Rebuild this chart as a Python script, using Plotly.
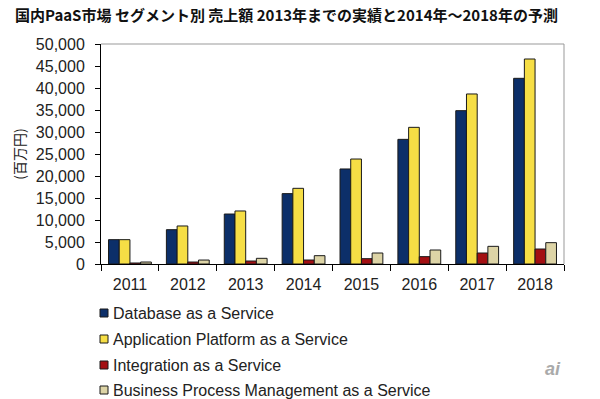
import plotly.graph_objects as go

years = ["2011", "2012", "2013", "2014", "2015", "2016", "2017", "2018"]
database = [5530, 7800, 11360, 15990, 21600, 28330, 34850, 42200]
app_platform = [5530, 8640, 12050, 17200, 23860, 31060, 38640, 46590]
integration = [230, 450, 680, 910, 1210, 1670, 2500, 3410]
bpm = [450, 900, 1290, 1890, 2500, 3180, 4015, 4850]

series_names = ["Database as a Service", "Application Platform as a Service",
                "Integration as a Service", "Business Process Management as a Service"]
series_values = [database, app_platform, integration, bpm]
colors = ["#0c2f69", "#f6de45", "#a30f12", "#ddd4a6"]

L, R, T, B = 101, 36, 44, 135
W, H = 600, 399
pw, ph = W - L - R, H - T - B

fig = go.Figure()
for i, (name, vals, c) in enumerate(zip(series_names, series_values, colors)):
    fig.add_trace(go.Bar(
        x=years, y=vals, name=name, showlegend=False,
        marker=dict(color=c, line=dict(color="#1a1a1a", width=1)),
    ))

font_family = "Liberation Sans, Arial, sans-serif"
fig.update_layout(
    width=W, height=H,
    margin=dict(l=L, r=R, t=T, b=B, autoexpand=False),
    paper_bgcolor="white", plot_bgcolor="white",
    barmode="group", bargap=0.26, bargroupgap=0,
    font=dict(family=font_family, size=15, color="#222"),
    title=dict(text="<b>国内PaaS市場 セグメント別 売上額 2013年までの実績と2014年～2018年の予測</b>",
               x=15 / W, xanchor="left", y=1 - 16 / H, yanchor="middle",
               font=dict(family="Noto Sans CJK JP, sans-serif", size=15, color="#111")),
    showlegend=False,
    xaxis=dict(type="category", showline=True, linecolor="#000", linewidth=1,
               ticks="outside", tickson="boundaries", ticklen=6, tickcolor="#000",
               ticklabelstandoff=6,
               automargin=False, showgrid=False, tickfont=dict(size=16, color="#222")),
    yaxis=dict(range=[0, 50000], dtick=5000, tickformat=",d", showline=True,
               linecolor="#000", linewidth=1, ticks="outside", ticklen=5,
               tickcolor="#000", showgrid=False, zeroline=False, automargin=False,
               ticklabelstandoff=7,
               tickfont=dict(size=16, color="#222"),
               title=dict(text="(百万円)", standoff=6,
                          font=dict(family="Noto Sans CJK JP, sans-serif", size=14, color="#222"))),
)
# top and right frame of the plot area
fig.add_shape(type="line", xref="paper", yref="paper", x0=0, x1=1, y0=1, y1=1,
              line=dict(color="#999", width=1))
fig.add_shape(type="line", xref="paper", yref="paper", x0=1, x1=1, y0=0, y1=1,
              line=dict(color="#999", width=1))

# manual legend (vertical, below the chart)
legend_y = [313, 339, 365, 390]
for name, c, yy in zip(series_names, colors, legend_y):
    py = (H - B - yy) / ph
    fig.add_shape(type="rect", xref="paper", yref="paper",
                  xsizemode="pixel", ysizemode="pixel",
                  xanchor=(104 - L) / pw, yanchor=py,
                  x0=-4, x1=4, y0=-4, y1=4,
                  fillcolor=c, line=dict(color="#1a1a1a", width=1))
    fig.add_annotation(text=name, xref="paper", yref="paper",
                       x=(111 - L) / pw, y=py, xanchor="left", yanchor="middle",
                       showarrow=False, font=dict(size=16, color="#222"))

fig.add_annotation(text="<i><b>ai</b></i>", xref="paper", yref="paper",
                   x=(563 - L) / pw, y=(H - B - 381) / ph,
                   showarrow=False, font=dict(size=18, color="#aaa", family="Liberation Sans"))

fig.write_html("out.html", config={"displayModeBar": False},
               post_script="document.body.style.margin='0';")
